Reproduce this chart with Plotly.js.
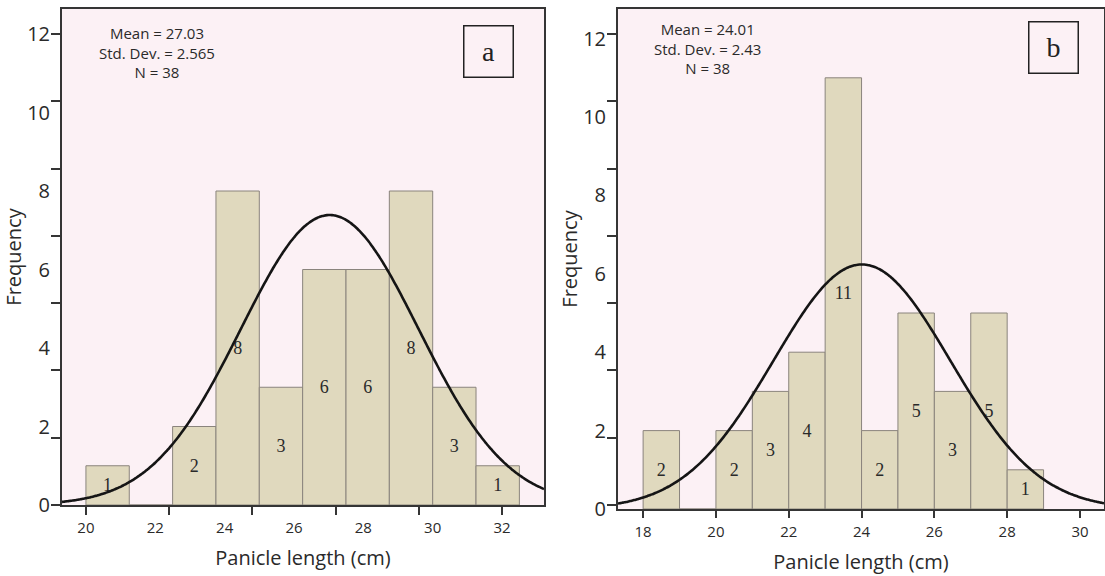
<!DOCTYPE html>
<html>
<head>
<meta charset="utf-8">
<script src="https://cdn.plot.ly/plotly-3.0.1.min.js"></script>
<style>
  html, body { margin: 0; padding: 0; background: #ffffff; }
  #chart { width: 1105px; height: 576px; }
</style>
</head>
<body>
<div id="chart"></div>
<script>
// ---- Panel a: panicle length histogram ----
const binStartA = [20, 21.25, 22.5, 23.75, 25, 26.25, 27.5, 28.75, 30, 31.25];
const countsA   = [1, 0, 2, 8, 3, 6, 6, 8, 3, 1];
const binWidthA = 1.25;
const meanA = 27.03, sdA = 2.565, nA = 38;
const xLabelsA = [20, 22, 24, 26, 28, 30, 32];
const xMarksA  = [20, 22.4, 24.8, 27.2, 29.6, 32];

// ---- Panel b: panicle length histogram ----
const binStartB = [18, 19, 20, 21, 22, 23, 24, 25, 26, 27, 28];
const countsB   = [2, 0, 2, 3, 4, 11, 2, 5, 3, 5, 1];
const binWidthB = 1;
const meanB = 24.01, sdB = 2.43, nB = 38;
const xLabelsB = [18, 20, 22, 24, 26, 28, 30];

// shared frequency axis
const yLabels    = [0, 2, 4, 6, 8, 10, 12];
const yMarkSteps = [0, 1, 2, 3, 4, 5, 6, 7];

const xRangeA = [19.31, 33.21], yRangeA = [0, 12.637];
const xRangeB = [17.31, 30.66], yRangeB = [0, 12.755];

const sansFont  = 'Open Sans, Noto Sans, sans-serif';
const serifFont = 'Liberation Serif, DejaVu Serif, serif';
const ink = '#2a2a2a';

function barTrace(starts, counts, w, xa, ya) {
  return {
    type: 'bar',
    x: starts.map(s => s + w / 2),
    y: counts,
    width: starts.map(() => w),
    text: counts.map(c => (c > 0 ? String(c) : '')),
    textposition: 'inside',
    insidetextanchor: 'middle',
    textangle: 0,
    constraintext: 'none',
    textfont: { family: serifFont, size: 18, color: ink },
    marker: { color: '#e0d9be', line: { color: '#8a847d', width: 1 } },
    hoverinfo: 'skip',
    xaxis: xa, yaxis: ya
  };
}

// fitted normal curve scaled to counts per bin
function normalCurve(mean, sd, n, w, range, xa, ya) {
  const xs = [], ys = [];
  const steps = 300;
  for (let i = 0; i <= steps; i++) {
    const x = range[0] + (range[1] - range[0]) * i / steps;
    const z = (x - mean) / sd;
    xs.push(x);
    ys.push(n * w * Math.exp(-0.5 * z * z) / (sd * Math.sqrt(2 * Math.PI)));
  }
  return {
    type: 'scatter', mode: 'lines', x: xs, y: ys,
    line: { color: '#151515', width: 2.6, shape: 'spline' },
    hoverinfo: 'skip', xaxis: xa, yaxis: ya
  };
}

// empty traces so the tick-mark axes get drawn
const markHolderA = { type: 'scatter', x: [null], y: [null], xaxis: 'x3', yaxis: 'y3', hoverinfo: 'skip', showlegend: false };
const markHolderB = { type: 'scatter', x: [null], y: [null], xaxis: 'x2', yaxis: 'y4', hoverinfo: 'skip', showlegend: false };

const data = [
  barTrace(binStartA, countsA, binWidthA, 'x', 'y'),
  normalCurve(meanA, sdA, nA, binWidthA, xRangeA, 'x', 'y'),
  barTrace(binStartB, countsB, binWidthB, 'x2', 'y2'),
  normalCurve(meanB, sdB, nB, binWidthB, xRangeB, 'x2', 'y2'),
  markHolderA, markHolderB
];

const frame = {
  showline: true, linecolor: '#353535', linewidth: 2, mirror: true,
  showgrid: false, zeroline: false, fixedrange: true
};
const hidden = 'rgba(0,0,0,0)';
const titleFont = { family: sansFont, size: 20, color: ink };

const markAxis = {
  showline: false, showgrid: false, zeroline: false, showticklabels: false,
  ticks: 'outside', ticklen: 10, tickwidth: 2, tickcolor: '#353535', fixedrange: true
};

function statsNote(xa, ya, x, y, mean, sd, n) {
  return {
    xref: xa + ' domain', yref: ya + ' domain', x: x, y: y,
    xanchor: 'center', yanchor: 'middle',
    text: `Mean = ${mean}<br>Std. Dev. = ${sd}<br>N = ${n}`,
    showarrow: false, align: 'center',
    font: { family: sansFont, size: 15, color: ink }
  };
}

function panelTag(xa, ya, x, y, letter) {
  return {
    xref: xa + ' domain', yref: ya + ' domain', x: x, y: y,
    xanchor: 'center', yanchor: 'middle',
    text: letter, showarrow: false,
    width: 48, height: 50, borderpad: 0, borderwidth: 1.5, bordercolor: '#222222',
    font: { family: serifFont, size: 28, color: '#222222' }
  };
}

const layout = {
  width: 1105, height: 576,
  margin: { l: 62, r: 1, t: 9, b: 67 },
  paper_bgcolor: '#ffffff',
  plot_bgcolor: '#fcf1f5',
  showlegend: false,
  bargap: 0,
  font: { family: sansFont, color: ink },

  xaxis: Object.assign({}, frame, {
    domain: [0, 0.46257], anchor: 'y', range: xRangeA,
    tickvals: xLabelsA, ticks: 'outside', ticklen: 8, tickcolor: hidden,
    tickfont: { family: sansFont, size: 15, color: ink },
    title: { text: 'Panicle length (cm)', font: titleFont, standoff: 15 }
  }),
  yaxis: Object.assign({}, frame, {
    domain: [0.008, 1], anchor: 'x', range: yRangeA,
    tickvals: yLabels, ticks: 'outside', ticklen: 6, tickcolor: hidden,
    tickfont: { family: sansFont, size: 20, color: ink },
    title: { text: 'Frequency', font: titleFont, standoff: 0 }
  }),
  xaxis3: Object.assign({}, markAxis, {
    overlaying: 'x', anchor: 'y', range: xRangeA, tickvals: xMarksA, ticklen: 9
  }),
  yaxis3: Object.assign({}, markAxis, {
    overlaying: 'y', anchor: 'x', side: 'left', range: [0, 7.371], tickvals: yMarkSteps
  }),

  xaxis2: Object.assign({}, frame, {
    domain: [0.53359, 1], anchor: 'y2', range: xRangeB,
    tickvals: xLabelsB, ticks: 'outside', ticklen: 7, tickwidth: 2, tickcolor: '#353535',
    ticklabelstandoff: 1,
    tickfont: { family: sansFont, size: 15, color: ink },
    title: { text: 'Panicle length (cm)', font: titleFont, standoff: 15 }
  }),
  yaxis2: Object.assign({}, frame, {
    domain: [0, 1], anchor: 'x2', range: yRangeB,
    tickvals: yLabels, ticks: 'outside', ticklen: 6, tickcolor: hidden,
    tickfont: { family: sansFont, size: 20, color: ink },
    title: { text: 'Frequency', font: titleFont, standoff: 0 }
  }),
  yaxis4: Object.assign({}, markAxis, {
    overlaying: 'y2', anchor: 'x2', side: 'left', range: [-0.0594, 7.371], tickvals: yMarkSteps
  }),

  annotations: [
    statsNote('x', 'y', 0.197, 0.913, meanA, sdA, nA),
    panelTag('x', 'y', 0.884, 0.915, 'a'),
    statsNote('x2', 'y2', 0.185, 0.92, meanB, sdB, nB),
    panelTag('x2', 'y2', 0.896, 0.923, 'b')
  ]
};

Plotly.newPlot('chart', data, layout, { displayModeBar: false, staticPlot: true });
</script>
</body>
</html>
